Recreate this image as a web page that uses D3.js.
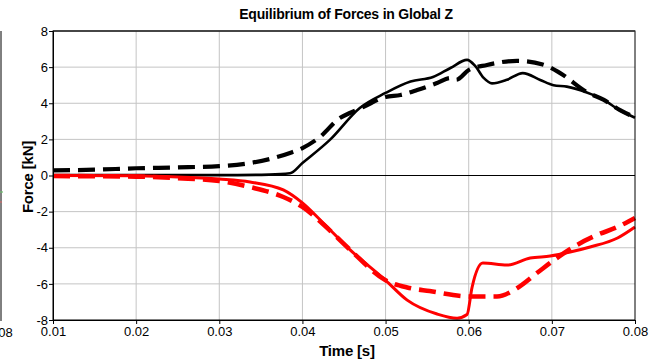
<!DOCTYPE html>
<html>
<head>
<meta charset="utf-8">
<script src="https://cdn.jsdelivr.net/npm/d3@7"></script>
<style>
  html, body { margin: 0; padding: 0; background: #fff; }
  svg { display: block; }
  text { font-family: "Liberation Sans", Arial, sans-serif; }
</style>
</head>
<body>
<svg id="chart" width="661" height="360"></svg>
<script>
// Time axis [s] and force axis [kN] tick values
const timeTicks = [0.01, 0.02, 0.03, 0.04, 0.05, 0.06, 0.07, 0.08];
const forceTicks = [-8, -6, -4, -2, 0, 2, 4, 6, 8];

// Black solid series: time [s], force [kN]
const blackSolidT = [0.010, 0.020, 0.030, 0.036, 0.0385, 0.040, 0.0433, 0.0469, 0.050, 0.053, 0.0557, 0.0578, 0.0598, 0.0608, 0.0618, 0.0628, 0.0646, 0.0665, 0.0686, 0.0702, 0.0718, 0.0742, 0.0762, 0.0782, 0.080];
const blackSolidF = [0.02, 0.02, 0.02, 0.05, 0.12, 0.69, 1.97, 3.74, 4.57, 5.20, 5.45, 5.95, 6.40, 6.05, 5.40, 5.10, 5.30, 5.67, 5.29, 5.00, 4.92, 4.60, 4.20, 3.60, 3.20];

// Black dashed series
const blackDashT = [0.010, 0.015, 0.020, 0.025, 0.030, 0.0337, 0.0385, 0.040, 0.0421, 0.0445, 0.0457, 0.0473, 0.050, 0.0518, 0.0538, 0.0562, 0.0578, 0.0585, 0.060, 0.0622, 0.0658, 0.0689, 0.071, 0.0742, 0.0762, 0.0782, 0.080];
const blackDashF = [0.28, 0.32, 0.40, 0.45, 0.52, 0.69, 1.25, 1.52, 2.13, 3.18, 3.46, 3.79, 4.35, 4.46, 4.73, 5.12, 5.40, 5.30, 5.84, 6.12, 6.35, 6.15, 5.67, 4.62, 4.20, 3.62, 3.22];

// Red solid series
const redSolidT = [0.010, 0.020, 0.025, 0.030, 0.0337, 0.0377, 0.040, 0.0425, 0.0457, 0.050, 0.0526, 0.0562, 0.0586, 0.0598, 0.0604, 0.0617, 0.0646, 0.0674, 0.0698, 0.0722, 0.0746, 0.0779, 0.080];
const redSolidF = [0.00, -0.02, -0.08, -0.20, -0.36, -0.80, -1.52, -2.63, -4.10, -5.80, -6.90, -7.67, -7.90, -7.70, -6.20, -4.85, -4.96, -4.57, -4.46, -4.24, -3.96, -3.46, -2.85];

// Red dashed series
const redDashT = [0.010, 0.020, 0.025, 0.030, 0.0337, 0.0377, 0.040, 0.0425, 0.0457, 0.050, 0.0526, 0.0553, 0.0602, 0.0634, 0.0658, 0.0682, 0.0706, 0.073, 0.0754, 0.0779, 0.080];
const redDashF = [-0.03, -0.06, -0.15, -0.30, -0.64, -1.19, -1.74, -2.70, -4.10, -5.80, -6.20, -6.40, -6.70, -6.70, -6.24, -5.40, -4.57, -3.85, -3.30, -2.85, -2.35];

const svg = d3.select("#chart");
const plotL = 53, plotR = 635, plotT = 31, plotB = 320;

const x = d3.scaleLinear().domain([0.01, 0.08]).range([plotL, plotR]);
const y = d3.scaleLinear().domain([-8, 8]).range([plotB, plotT]);

// Partial neighbouring panel at the far left edge
const sliver = svg.append("g");
sliver.append("line").attr("x1", 1).attr("x2", 1).attr("y1", plotT).attr("y2", plotB + 1)
  .attr("stroke", "#000").attr("stroke-width", 1);
sliver.append("line").attr("x1", 0).attr("x2", 3).attr("y1", 192).attr("y2", 192)
  .attr("stroke", "#6fbf6f").attr("stroke-width", 1.2);
sliver.append("line").attr("x1", 0).attr("x2", 2).attr("y1", 202).attr("y2", 202)
  .attr("stroke", "#d66").attr("stroke-width", 1.2);
sliver.append("text").attr("x", 0).attr("y", 337).attr("text-anchor", "middle")
  .attr("font-size", 13).attr("fill", "#000").text("0.08");

// Grid lines
const grid = svg.append("g");
grid.selectAll(".gx").data(timeTicks.slice(1, -1)).join("line")
  .attr("x1", d => x(d)).attr("x2", d => x(d)).attr("y1", plotT).attr("y2", plotB)
  .attr("stroke", "#c4c4c4").attr("stroke-width", 1);
grid.selectAll(".gy").data(forceTicks.filter(d => d !== 0 && Math.abs(d) !== 8)).join("line")
  .attr("x1", plotL).attr("x2", plotR).attr("y1", d => y(d)).attr("y2", d => y(d))
  .attr("stroke", "#c4c4c4").attr("stroke-width", 1);

// Zero line
svg.append("line").attr("x1", plotL).attr("x2", plotR).attr("y1", y(0)).attr("y2", y(0))
  .attr("stroke", "#000").attr("stroke-width", 1);

// Series
const line = (ts, fs) => d3.line().x((d, i) => x(ts[i])).y((d, i) => y(fs[i]))
  .curve(d3.curveMonotoneX)(ts);

const plot = svg.append("g");
plot.append("path").attr("d", line(blackDashT, blackDashF))
  .attr("fill", "none").attr("stroke", "#000").attr("stroke-width", 4.2)
  .attr("stroke-dasharray", "17,8");
plot.append("path").attr("d", line(blackSolidT, blackSolidF))
  .attr("fill", "none").attr("stroke", "#000").attr("stroke-width", 2.6);
plot.append("path").attr("d", line(redSolidT, redSolidF))
  .attr("fill", "none").attr("stroke", "#ff0000").attr("stroke-width", 3);
plot.append("path").attr("d", line(redDashT, redDashF))
  .attr("fill", "none").attr("stroke", "#ff0000").attr("stroke-width", 4.6)
  .attr("stroke-dasharray", "17,8");

// Frame
svg.append("rect").attr("x", plotL).attr("y", plotT).attr("width", plotR - plotL).attr("height", plotB - plotT)
  .attr("fill", "none").attr("stroke", "#000").attr("stroke-width", 1);
svg.append("line").attr("x1", plotL).attr("x2", plotR).attr("y1", plotT).attr("y2", plotT)
  .attr("stroke", "#333").attr("stroke-width", 1.6);

// Axes (plain hyphen for negative labels)
const xAxis = d3.axisBottom(x).tickValues(timeTicks).tickSize(4).tickPadding(3)
  .tickFormat(d3.format(".2f"));
const yAxis = d3.axisLeft(y).tickValues(forceTicks).tickSize(4).tickPadding(1)
  .tickFormat(d => String(d));

const gx = svg.append("g").attr("transform", `translate(0,${plotB})`).call(xAxis);
const gy = svg.append("g").attr("transform", `translate(${plotL},0)`).call(yAxis);
[gx, gy].forEach(g => {
  g.select(".domain").attr("stroke", "#000");
  g.selectAll(".tick line").attr("stroke", "#000");
  g.selectAll("text").attr("font-size", 13).attr("fill", "#000")
    .attr("font-family", "'Liberation Sans', Arial, sans-serif");
});

// Titles
svg.append("text").attr("x", 346).attr("y", 19).attr("text-anchor", "middle")
  .attr("font-size", 14).attr("font-weight", "bold").attr("letter-spacing", -0.2)
  .text("Equilibrium of Forces in Global Z");
svg.append("text").attr("x", 347).attr("y", 356).attr("text-anchor", "middle")
  .attr("font-size", 15).attr("font-weight", "bold").attr("letter-spacing", -0.2)
  .text("Time [s]");
svg.append("text").attr("transform", "translate(33,177) rotate(-90)").attr("text-anchor", "middle")
  .attr("font-size", 15).attr("font-weight", "bold").attr("letter-spacing", -0.2)
  .text("Force [kN]");
</script>
</body>
</html>
